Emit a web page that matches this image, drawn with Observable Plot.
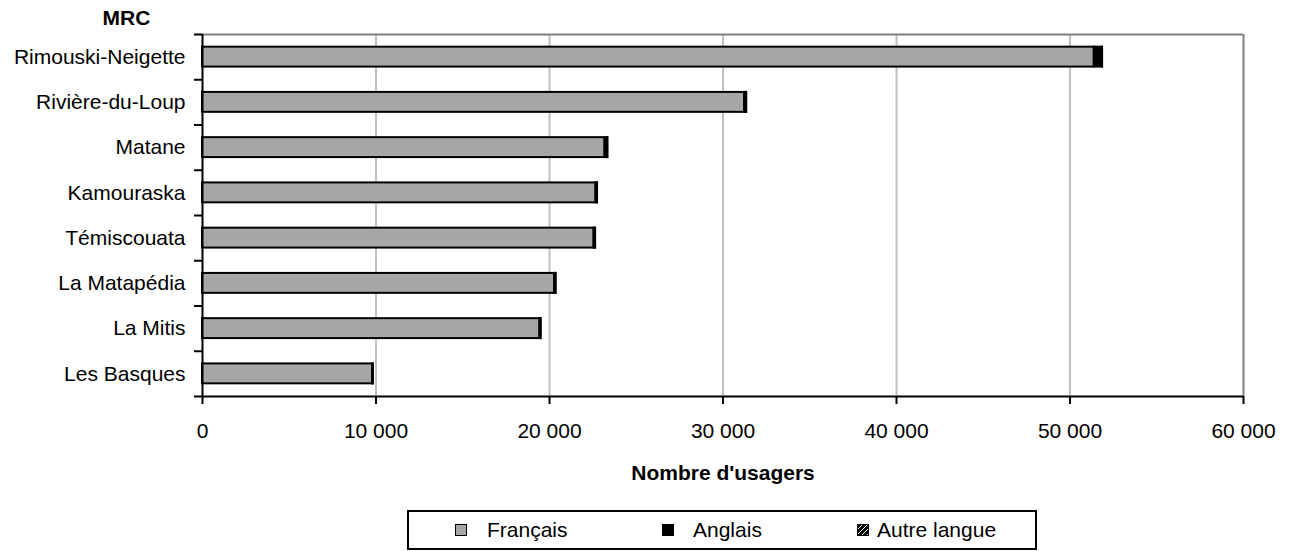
<!DOCTYPE html>
<html>
<head>
<meta charset="utf-8">
<script src="https://cdn.jsdelivr.net/npm/d3@7"></script>
<script src="https://cdn.jsdelivr.net/npm/@observablehq/plot@0.6"></script>
<style>
  body { margin: 0; background: #fff; font-family: "Liberation Sans", Arial, sans-serif; }
  #wrap { position: relative; width: 1294px; height: 551px; overflow: hidden; }
  #legend { position: absolute; left: 407px; top: 510px; width: 626px; height: 36px; border: 2px solid #000; box-sizing: content-box; }
  #legend .sw { position: absolute; top: 12px; width: 10px; height: 10px; border: 1.5px solid #000; }
  #legend .lb { position: absolute; top: 6px; font-size: 21px; line-height: 24px; color: #000; white-space: nowrap; }
</style>
</head>
<body>
<div id="wrap">
  <div id="chart"></div>
  <div id="legend">
    <span class="sw" style="left:46px;background:#a6a6a6"></span><span class="lb" style="left:78px">Français</span>
    <span class="sw" style="left:253px;background:#000"></span><span class="lb" style="left:284px">Anglais</span>
    <span class="sw" style="left:448px;background:repeating-linear-gradient(135deg,#000 0 2.5px,#fff 2.5px 3.5px)"></span><span class="lb" style="left:468px">Autre langue</span>
  </div>
</div>
<script>
const categories = ["Rimouski-Neigette", "Rivière-du-Loup", "Matane", "Kamouraska", "Témiscouata", "La Matapédia", "La Mitis", "Les Basques"];
const francais = [51400, 31250, 23200, 22680, 22570, 20300, 19450, 9800];
const anglais  = [450, 100, 150, 80, 80, 70, 60, 40];
const autre    = [30, 20, 20, 10, 10, 10, 10, 5];
const languages = ["Français", "Anglais", "Autre langue"];
const xTicks = [0, 10000, 20000, 30000, 40000, 50000, 60000];
const yTitle = "MRC";
const xTitle = "Nombre d'usagers";

const fills = {"Français": "#a6a6a6", "Anglais": "#000000", "Autre langue": "url(#hatch)"};
const series = [francais, anglais, autre];

const rows = [];
categories.forEach((c, i) => {
  let acc = 0;
  languages.forEach((lang, k) => {
    const v = series[k][i];
    rows.push({cat: c, idx: i, lang, x1: acc, x2: acc + v});
    acc += v;
  });
});

const fmt = v => d3.format(",")(v).replace(/,/g, " ");
const half = 0.22;

const plot = Plot.plot({
  width: 1294,
  height: 500,
  marginLeft: 202,
  marginRight: 51,
  marginTop: 34,
  marginBottom: 104,
  style: {fontFamily: "Liberation Sans, Arial, sans-serif", fontSize: "21px", color: "#000", background: "#fff", overflow: "visible"},
  x: {domain: [0, 60000], axis: null},
  y: {type: "linear", domain: [0, categories.length], reverse: true, axis: null},
  color: {type: "identity"},
  marks: [
    Plot.ruleX(xTicks.filter(t => t > 0 && t < 60000), {stroke: "#c0c0c0", strokeWidth: 2}),
    Plot.ruleY([0], {stroke: "#808080", strokeWidth: 2}),
    Plot.ruleX([60000], {stroke: "#808080", strokeWidth: 2}),
    Plot.rectX(rows, {
      x1: "x1", x2: "x2",
      y1: d => d.idx + 0.5 - half,
      y2: d => d.idx + 0.5 + half,
      fill: d => fills[d.lang],
      stroke: "#000", strokeWidth: 2
    }),
    Plot.ruleX([0], {stroke: "#000", strokeWidth: 2}),
    Plot.ruleY([categories.length], {stroke: "#000", strokeWidth: 2}),
    Plot.axisY(d3.range(0, categories.length + 1), {tickSize: 8, tickFormat: () => "", stroke: "#000", strokeWidth: 2}),
    Plot.axisY(categories.map((c, i) => i + 0.5), {tickSize: 0, tickPadding: 17, tickFormat: v => categories[Math.floor(v)], fontSize: 21, fill: "#000"}),
    Plot.axisX(xTicks, {tickSize: 8, tickPadding: 19, tickFormat: fmt, fontSize: 21, stroke: "#000", strokeWidth: 2, fill: "#000"}),
    Plot.text([xTitle], {frameAnchor: "bottom", dy: 77, fontWeight: "bold", fontSize: 21, fill: "#000", lineAnchor: "middle"}),
    Plot.text([yTitle], {frameAnchor: "top-left", dx: -76, dy: -16, textAnchor: "middle", fontWeight: "bold", fontSize: 21, fill: "#000", lineAnchor: "middle"})
  ]
});

const svg = d3.select(plot);
const defs = svg.insert("defs", ":first-child");
const pat = defs.append("pattern").attr("id", "hatch").attr("patternUnits", "userSpaceOnUse")
  .attr("width", 4).attr("height", 4);
pat.append("rect").attr("width", 4).attr("height", 4).attr("fill", "#000");
pat.append("path").attr("d", "M0,4 L4,0").attr("stroke", "#fff").attr("stroke-width", 1);

document.getElementById("chart").appendChild(plot);
</script>
</body>
</html>
